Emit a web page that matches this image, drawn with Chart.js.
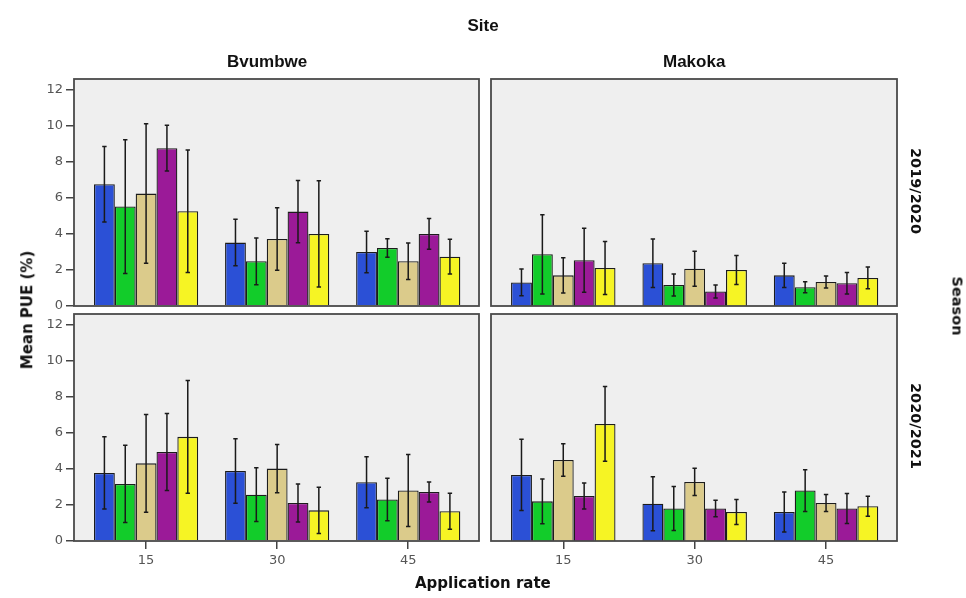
<!DOCTYPE html>
<html>
<head>
<meta charset="utf-8">
<script src="https://cdn.jsdelivr.net/npm/chart.js@4/dist/chart.umd.min.js"></script>
<style>
  html, body { margin: 0; padding: 0; background: #ffffff; }
  #wrap { position: relative; width: 966px; height: 598px; overflow: hidden; }
  #wrap canvas { position: absolute; left: 0; top: 0; }
  .lbl { position: absolute; white-space: nowrap; color: #111; transform-origin: center center; }
  .facet { font: bold 17px "Liberation Sans", Arial, sans-serif; }
  .axis { font: bold 15px "DejaVu Sans", sans-serif; }
  .season { font: bold 14.5px "DejaVu Sans", sans-serif; }
</style>
</head>
<body>
<div id="wrap">
  <canvas id="pTL" width="966" height="598"></canvas>
  <canvas id="pTR" width="966" height="598"></canvas>
  <canvas id="pBL" width="966" height="598"></canvas>
  <canvas id="pBR" width="966" height="598"></canvas>

  <div class="lbl facet" id="tSite">Site</div>
  <div class="lbl facet" id="tBvu">Bvumbwe</div>
  <div class="lbl facet" id="tMak">Makoka</div>
  <div class="lbl axis" id="tY">Mean PUE (%)</div>
  <div class="lbl axis" id="tX">Application rate</div>
  <div class="lbl season" id="tS1">2019/2020</div>
  <div class="lbl season" id="tS2">2020/2021</div>
  <div class="lbl season" id="tSeason">Season</div>
</div>

<script>
// Application rates on the x axis and y tick values
const rates = ['15', '30', '45'];
const yTicks = [0, 2, 4, 6, 8, 10, 12];

// Fill colours of the five treatments, in drawing order
const barColors = ['#2b50d6', '#12cc2a', '#dbcb8b', '#9b1a98', '#f6f424'];

// Mean PUE (%) — one row per treatment, one column per rate (15, 30, 45)
const bvu1920Mean = [[6.76, 3.52, 3.00], [5.52, 2.48, 3.22], [6.24, 3.72, 2.48], [8.76, 5.24, 4.00], [5.26, 4.00, 2.74]];
const mak1920Mean = [[1.31, 2.37, 1.70], [2.87, 1.17, 1.04], [1.70, 2.07, 1.33], [2.54, 0.81, 1.26], [2.11, 2.00, 1.56]];
const bvu2021Mean = [[3.78, 3.89, 3.26], [3.17, 2.57, 2.30], [4.31, 4.02, 2.80], [4.94, 2.11, 2.72], [5.78, 1.70, 1.65]];
const mak2021Mean = [[3.67, 2.07, 1.61], [2.20, 1.80, 2.80], [4.50, 3.28, 2.11], [2.50, 1.80, 1.80], [6.50, 1.61, 1.93]];

// Half-width of the error bars, same layout as the means
const bvu1920Err = [[2.10, 1.29, 1.15], [3.71, 1.30, 0.51], [3.87, 1.73, 1.01], [1.27, 1.73, 0.85], [3.40, 2.95, 0.96]];
const mak1920Err = [[0.74, 1.35, 0.67], [2.20, 0.61, 0.30], [0.98, 0.97, 0.33], [1.78, 0.36, 0.60], [1.47, 0.80, 0.60]];
const bvu2021Err = [[2.01, 1.79, 1.42], [2.14, 1.49, 1.18], [2.71, 1.34, 2.00], [2.14, 1.05, 0.56], [3.13, 1.29, 1.00]];
const mak2021Err = [[1.98, 1.50, 1.11], [1.24, 1.22, 1.16], [0.90, 0.76, 0.47], [0.72, 0.46, 0.83], [2.07, 0.70, 0.55]];

const PAGE_W = 966, PAGE_H = 598;
const Y_AXIS_W = 40, X_AXIS_H = 30;
const tickFont = { family: '"DejaVu Sans", sans-serif', size: 13 };

// Panel background, error bars and frame
const panelPlugin = {
  id: 'panelDeco',
  beforeDraw(chart) {
    const a = chart.chartArea, ctx = chart.ctx;
    ctx.save();
    ctx.fillStyle = '#efefef';
    ctx.fillRect(a.left, a.top, a.right - a.left, a.bottom - a.top);
    ctx.restore();
  },
  afterDatasetsDraw(chart) {
    const ctx = chart.ctx, y = chart.scales.y, a = chart.chartArea;
    ctx.save();
    ctx.strokeStyle = '#1a1a1a';
    ctx.lineWidth = 1.5;
    chart.data.datasets.forEach((ds, di) => {
      const meta = chart.getDatasetMeta(di);
      meta.data.forEach((bar, j) => {
        const m = ds.data[j].y, e = ds.errors[j];
        const yHi = y.getPixelForValue(m + e);
        const yLo = y.getPixelForValue(Math.max(0, m - e));
        const cap = 2.2;
        ctx.beginPath();
        ctx.moveTo(bar.x, yHi); ctx.lineTo(bar.x, yLo);
        ctx.moveTo(bar.x - cap, yHi); ctx.lineTo(bar.x + cap, yHi);
        ctx.moveTo(bar.x - cap, yLo); ctx.lineTo(bar.x + cap, yLo);
        ctx.stroke();
      });
    });
    ctx.strokeStyle = '#4a4a4a';
    ctx.lineWidth = 1.8;
    ctx.strokeRect(a.left, a.top, a.right - a.left, a.bottom - a.top);
    ctx.restore();
  }
};

function buildPanel(id, rect, means, errs, showY, showX) {
  const datasets = means.map((row, s) => ({
    data: row.map((v, i) => ({ x: i, y: v })),
    errors: errs[s],
    backgroundColor: barColors[s],
    borderColor: '#1c1c1c',
    borderWidth: 1.3,
    categoryPercentage: 0.795,
    barPercentage: 1.0
  }));
  new Chart(document.getElementById(id), {
    type: 'bar',
    data: { datasets },
    plugins: [panelPlugin],
    options: {
      responsive: false,
      animation: false,
      events: [],
      layout: {
        padding: {
          left: showY ? rect.left - Y_AXIS_W : rect.left,
          top: rect.top,
          right: PAGE_W - rect.right,
          bottom: PAGE_H - rect.bottom - (showX ? X_AXIS_H : 0)
        }
      },
      plugins: { legend: { display: false }, tooltip: { enabled: false } },
      scales: {
        x: {
          type: 'linear',
          min: -0.55,
          max: 2.54,
          offset: false,
          display: showX,
          afterBuildTicks: s => { s.ticks = rates.map((r, i) => ({ value: i })); },
          afterFit: s => { s.height = showX ? X_AXIS_H : 0; },
          ticks: {
            callback: v => rates[v],
            color: '#555',
            font: tickFont,
            padding: 4,
            autoSkip: false,
            maxRotation: 0
          },
          grid: { offset: false, drawOnChartArea: false, drawTicks: true, tickLength: 8, color: '#444', lineWidth: 1.5 },
          border: { display: false }
        },
        y: {
          type: 'linear',
          min: 0,
          max: 12.6,
          display: showY,
          afterBuildTicks: s => { s.ticks = yTicks.map(v => ({ value: v })); },
          afterFit: s => { s.width = showY ? Y_AXIS_W : 0; },
          ticks: { color: '#555', font: tickFont, padding: 3 },
          grid: { drawOnChartArea: false, drawTicks: true, tickLength: 8, color: '#444', lineWidth: 1.5 },
          border: { display: false }
        }
      }
    }
  });
}

buildPanel('pTL', { left: 74, top: 79, right: 479, bottom: 306 }, bvu1920Mean, bvu1920Err, true, false);
buildPanel('pTR', { left: 491, top: 79, right: 897, bottom: 306 }, mak1920Mean, mak1920Err, false, false);
buildPanel('pBL', { left: 74, top: 314, right: 479, bottom: 541 }, bvu2021Mean, bvu2021Err, true, true);
buildPanel('pBR', { left: 491, top: 314, right: 897, bottom: 541 }, mak2021Mean, mak2021Err, false, true);

// Place the surrounding labels by their centres
function place(id, cx, cy, rot) {
  const el = document.getElementById(id);
  const w = el.offsetWidth, h = el.offsetHeight;
  el.style.left = (cx - w / 2) + 'px';
  el.style.top = (cy - h / 2) + 'px';
  if (rot) el.style.transform = 'rotate(' + rot + 'deg)';
}
place('tSite', 483, 26, 0);
place('tBvu', 267, 62, 0);
place('tMak', 694, 62, 0);
place('tY', 27, 310, -90);
place('tX', 483, 583, 0);
place('tS1', 916, 191, 90);
place('tS2', 916, 426, 90);
place('tSeason', 957, 306, 90);
</script>
</body>
</html>
